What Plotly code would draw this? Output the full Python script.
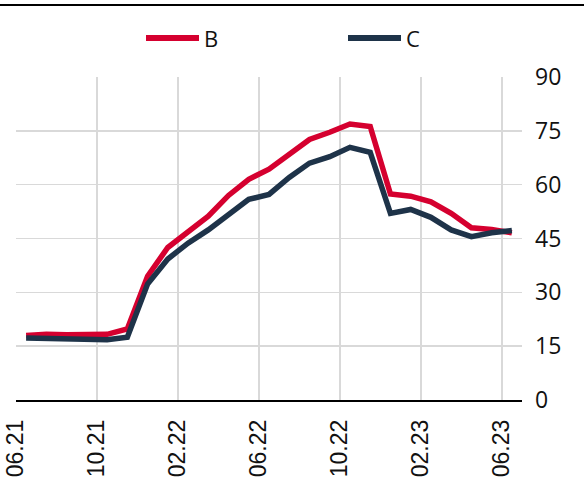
import plotly.graph_objects as go

months = ["06.21", "07.21", "08.21", "09.21", "10.21", "11.21", "12.21", "01.22",
          "02.22", "03.22", "04.22", "05.22", "06.22", "07.22", "08.22", "09.22",
          "10.22", "11.22", "12.22", "01.23", "02.23", "03.23", "04.23", "05.23", "06.23"]
series_b = [18.0, 18.3, 18.2, 18.4, 18.3, 19.8, 34.5, 42.5, 47.0, 51.2, 57.0, 61.5, 64.3,
            68.5, 72.6, 74.6, 76.9, 76.2, 57.4, 56.8, 55.2, 52.0, 48.0, 47.5, 46.6]
series_c = [17.3, 17.2, 16.8, 17.0, 16.8, 17.5, 32.3, 39.3, 43.7, 47.4, 51.5, 55.9, 57.3,
            62.0, 66.0, 67.8, 70.4, 69.0, 52.0, 53.1, 50.9, 47.4, 45.5, 46.6, 47.2]
tick_labels = ["06.21", "10.21", "02.22", "06.22", "10.22", "02.23", "06.23"]
y_ticks = [0, 15, 30, 45, 60, 75, 90]

RED = "#d5002f"
NAVY = "#1e3349"

xs = list(range(len(months)))
tickvals = [months.index(t) - 0.5 for t in tick_labels]

fig = go.Figure()
fig.add_trace(go.Scatter(x=xs, y=series_b, mode="lines", name="B",
                         line=dict(color=RED, width=5.5), showlegend=False))
fig.add_trace(go.Scatter(x=xs, y=series_c, mode="lines", name="C",
                         line=dict(color=NAVY, width=5.5), showlegend=False))

W, H = 584, 484
L, R, T, B = 16, 62, 77, 84
pw, ph = W - L - R, H - T - B

def px_x(p):
    return (p - L) / pw

def px_y(p):
    return (H - B - p) / ph

shapes = [
    dict(type="line", xref="paper", yref="paper", x0=px_x(0), x1=px_x(584),
         y0=px_y(5), y1=px_y(5), line=dict(color="black", width=2)),
]
annotations = []
for name, color, x0 in [("B", RED, 146), ("C", NAVY, 348)]:
    shapes.append(dict(type="line", xref="paper", yref="paper",
                       x0=px_x(x0), x1=px_x(x0 + 53), y0=px_y(38), y1=px_y(38),
                       line=dict(color=color, width=6)))
    annotations.append(dict(text=name, xref="paper", yref="paper",
                            x=px_x(x0 + 56), y=px_y(38), xanchor="left", yanchor="middle",
                            showarrow=False, font=dict(family="Open Sans", size=22, color="#111")))

fig.update_layout(
    width=W, height=H,
    margin=dict(l=L, r=R, t=T, b=B, autoexpand=False),
    paper_bgcolor="white", plot_bgcolor="white",
    shapes=shapes, annotations=annotations,
    showlegend=False,
    xaxis=dict(range=[-0.5, len(months) - 0.5], tickvals=tickvals, ticktext=tick_labels,
               tickangle=-90, showgrid=True, gridcolor="#d9d9d9", gridwidth=1.5,
               showline=True, linecolor="black", linewidth=1.5, ticks="",
               ticklabelstandoff=9, automargin=False,
               tickfont=dict(family="Liberation Sans", size=23, color="#111"),
               zeroline=False, fixedrange=True),
    yaxis=dict(range=[0, 90], tickvals=y_ticks, side="right", automargin=False,
               showgrid=True, gridcolor="#d9d9d9", gridwidth=1.5,
               showline=False, zeroline=False, ticks="", ticklabelstandoff=12,
               tickfont=dict(family="Open Sans", size=23, color="#111")),
)

fig.write_html("out.html", config={"displayModeBar": False, "staticPlot": True},
               post_script="document.body.style.margin='0';document.body.style.overflow='hidden';")
